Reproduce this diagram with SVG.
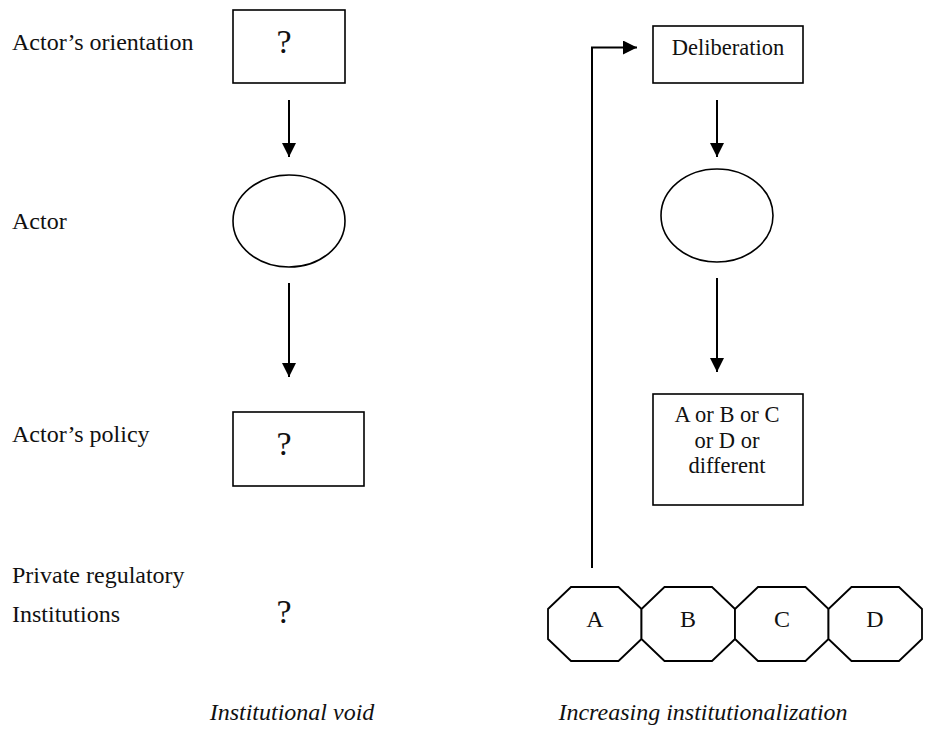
<svg xmlns="http://www.w3.org/2000/svg" width="927" height="743" viewBox="0 0 927 743">
  <style>
    .bg { fill: #ffffff; }
    .box { fill: #ffffff; stroke: #000000; stroke-width: 1.6; }
    .oct { fill: #ffffff; stroke: #000000; stroke-width: 1.8; stroke-linejoin: miter; }
    .edge { fill: none; stroke: #000000; stroke-width: 2; }
    text { font-family: 'Liberation Serif', Tinos, 'DejaVu Serif', serif; fill: #111111; }
    .label { font-size: 24px; }
    .boxtext { font-size: 22.5px; text-anchor: middle; }
    .q { font-size: 34px; text-anchor: middle; }
    .caption { font-style: italic; font-size: 24px; text-anchor: middle; }
  </style>
  <defs>
    <marker id="arrow" markerUnits="userSpaceOnUse" markerWidth="15" markerHeight="15" refX="14" refY="7" orient="auto">
      <path d="M0,0 L14,7 L0,14 Z" fill="#000000"/>
    </marker>
  </defs>

  <rect class="bg" x="0" y="0" width="927" height="743"/>

  <!-- row labels -->
  <g id="row-labels" font-family="Liberation Serif, serif">
    <text class="label" x="12" y="50">Actor’s orientation</text>
    <text class="label" x="12" y="229">Actor</text>
    <text class="label" x="12" y="442">Actor’s policy</text>
    <text class="label" x="12" y="583">Private regulatory</text>
    <text class="label" x="12" y="622">Institutions</text>
  </g>

  <!-- left column: institutional void -->
  <g id="void-orientation">
    <rect class="box" x="233" y="10" width="112" height="73"/>
    <text class="q" x="284" y="53">?</text>
  </g>
  <g id="void-actor">
    <ellipse class="box" cx="289" cy="221" rx="56" ry="46"/>
  </g>
  <g id="void-policy">
    <rect class="box" x="233" y="412" width="131" height="74"/>
    <text class="q" x="284" y="455">?</text>
  </g>
  <g id="void-institutions">
    <text class="q" x="284" y="623">?</text>
  </g>

  <!-- right column: increasing institutionalization -->
  <g id="deliberation">
    <rect class="box" x="653" y="26" width="150" height="57"/>
    <text class="boxtext" x="728" y="55">Deliberation</text>
  </g>
  <g id="inst-actor">
    <ellipse class="box" cx="717" cy="215.5" rx="56" ry="46.5"/>
  </g>
  <g id="inst-policy">
    <rect class="box" x="653" y="394" width="150" height="111"/>
    <text class="boxtext" x="727" y="422">A or B or C</text>
    <text class="boxtext" x="727" y="448">or D or</text>
    <text class="boxtext" x="727" y="473">different</text>
  </g>

  <!-- chain of private regulatory institutions -->
  <g id="inst-a">
    <polygon class="oct" points="571,587 618.5,587 641.5,609 641.5,639 618.5,661 571,661 548,639 548,609"/>
    <text class="label" x="595" y="627" text-anchor="middle">A</text>
  </g>
  <g id="inst-b">
    <polygon class="oct" points="664.5,587 712,587 735,609 735,639 712,661 664.5,661 641.5,639 641.5,609"/>
    <text class="label" x="688" y="627" text-anchor="middle">B</text>
  </g>
  <g id="inst-c">
    <polygon class="oct" points="758,587 805.5,587 828.5,609 828.5,639 805.5,661 758,661 735,639 735,609"/>
    <text class="label" x="782" y="627" text-anchor="middle">C</text>
  </g>
  <g id="inst-d">
    <polygon class="oct" points="851.5,587 899,587 922,609 922,639 899,661 851.5,661 828.5,639 828.5,609"/>
    <text class="label" x="875" y="627" text-anchor="middle">D</text>
  </g>

  <!-- connectors -->
  <g id="connectors">
    <line class="edge" x1="289" y1="100" x2="289" y2="157" marker-end="url(#arrow)"/>
    <line class="edge" x1="289" y1="283" x2="289" y2="377" marker-end="url(#arrow)"/>
    <line class="edge" x1="717" y1="100" x2="717" y2="157" marker-end="url(#arrow)"/>
    <line class="edge" x1="717" y1="278" x2="717" y2="372" marker-end="url(#arrow)"/>
    <path class="edge" d="M592,568 V47.5 H637" marker-end="url(#arrow)"/>
  </g>

  <!-- column captions -->
  <g id="captions">
    <text class="caption" x="292" y="720">Institutional void</text>
    <text class="caption" x="703" y="720">Increasing institutionalization</text>
  </g>
</svg>
